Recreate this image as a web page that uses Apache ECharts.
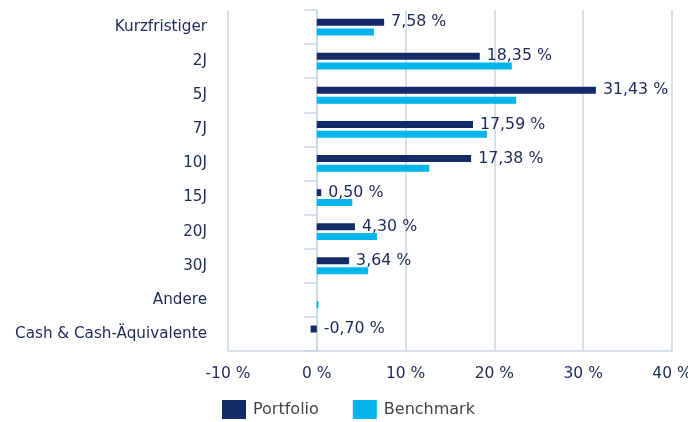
<!DOCTYPE html>
<html>
<head>
<meta charset="utf-8">
<script src="https://cdn.jsdelivr.net/npm/echarts@6/dist/echarts.min.js"></script>
<style>
  html, body { margin: 0; padding: 0; background: #fff; }
  #chart { width: 688px; height: 422px; }
</style>
</head>
<body>
<div id="chart"></div>
<script>
// Laufzeitstruktur: Gewichtung Portfolio vs. Benchmark (in %)
const categories = ['Kurzfristiger', '2J', '5J', '7J', '10J', '15J', '20J', '30J', 'Andere', 'Cash & Cash-Äquivalente'];
const portfolio = [7.58, 18.35, 31.43, 17.59, 17.38, 0.50, 4.30, 3.64, null, -0.70];
const benchmark = [6.43, 21.96, 22.45, 19.16, 12.66, 4.0, 6.77, 5.78, 0.2, null];
const xTicks = { min: -10, max: 40, interval: 10 };

const textColor = '#1b2a57';
const lineColor = '#cbd6e6';
const fontFamily = 'DejaVu Sans, Verdana, sans-serif';

const fmt = v => v.toFixed(2).replace('.', ',') + ' %';

const chart = echarts.init(document.getElementById('chart'));
chart.setOption({
  animation: false,
  textStyle: { fontFamily: fontFamily },
  grid: { left: 228, right: 16, top: 10, bottom: 71, containLabel: false, outerBoundsMode: 'none' },
  legend: {
    data: ['Portfolio', 'Benchmark'],
    left: 222,
    top: 400,
    padding: 0,
    itemWidth: 24,
    itemHeight: 19,
    itemGap: 34,
    icon: 'rect',
    textStyle: { color: '#444', fontSize: 16, fontFamily: fontFamily, padding: [0, 0, 0, 2] }
  },
  xAxis: {
    type: 'value',
    min: xTicks.min,
    max: xTicks.max,
    interval: xTicks.interval,
    axisLine: { show: true, lineStyle: { color: lineColor, width: 1.5 } },
    axisTick: { show: false },
    splitLine: { show: true, lineStyle: { color: lineColor, width: 1.5 } },
    axisLabel: {
      color: textColor, fontSize: 15.5, margin: 15,
      formatter: v => v + ' %'
    }
  },
  yAxis: {
    type: 'category',
    data: categories,
    inverse: true,
    axisLine: { show: true, lineStyle: { color: lineColor, width: 1.5 } },
    axisTick: { show: true, length: 13, lineStyle: { color: lineColor, width: 1.5 } },
    axisLabel: { color: textColor, fontSize: 15.2, margin: 21 }
  },
  series: [
    {
      name: 'Portfolio',
      type: 'bar',
      data: portfolio,
      barWidth: 7,
      barGap: '40%',
      itemStyle: { color: '#132c69' },
      label: {
        show: true,
        position: 'right',
        distance: 7,
        color: textColor,
        fontSize: 15.8,
        formatter: p => (p.value == null ? '' : fmt(p.value))
      }
    },
    {
      name: 'Benchmark',
      type: 'bar',
      data: benchmark,
      barWidth: 7,
      itemStyle: { color: '#00b5eb' }
    }
  ]
});
</script>
</body>
</html>
